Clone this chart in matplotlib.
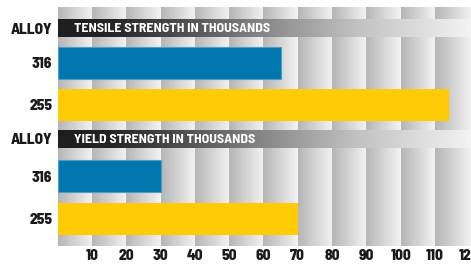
import numpy as np
import matplotlib
matplotlib.use("Agg")
import matplotlib.pyplot as plt
from matplotlib.colors import LinearSegmentedColormap

# ---- data -------------------------------------------------------------------
alloys = ["316", "255"]
tensile_strength = [65, 114]
yield_strength = [30, 70]
headers = ["TENSILE STRENGTH IN THOUSANDS", "YIELD STRENGTH IN THOUSANDS"]
x_ticks = [10, 20, 30, 40, 50, 60, 70, 80, 90, 100, 110, 120]

# ---- style ------------------------------------------------------------------
plt.rcParams["font.family"] = ["Barlow Semi Condensed", "Barlow Condensed",
                               "Archivo Narrow", "DejaVu Sans"]
plt.rcParams["font.weight"] = "bold"

blue = "#0077ae"
yellow = "#ffcb05"

column_cmap = LinearSegmentedColormap.from_list("col", ["#b6b6b6", "#f3f3f3"])
header_cmap = LinearSegmentedColormap.from_list(
    "hdr",
    [(0.0, "#1e1e1e"), (0.12, "#242424"), (0.32, "#555555"),
     (0.5, "#888888"), (0.72, "#c0c0c0"), (1.0, "#f2f2f2")],
)

# layout in pixel rows (top of image = 0)
W, H = 471, 264
x0_px, top_px, bottom_px = 57.7, 7, 246
x_max = 120.5
header_rows = [(19, 37), (130, 148)]
bar_rows = [[63, 105], [176.5, 219]]
bar_height = 32

fig = plt.figure(figsize=(W / 100, H / 100), dpi=100)
ax = fig.add_axes([x0_px / W, (H - bottom_px) / H,
                   (W - x0_px) / W, (bottom_px - top_px) / H])

# gradient columns in the background
grad = np.linspace(0, 1, 64).reshape(1, -1)
for left in range(0, 120, 10):
    right = left + 10 if left < 110 else x_max
    ax.imshow(grad, cmap=column_cmap, aspect="auto", interpolation="bilinear",
              extent=[left, right, bottom_px, top_px], zorder=0)

# header bands with white titles
for (y_top, y_bot), title in zip(header_rows, headers):
    ax.imshow(grad, cmap=header_cmap, aspect="auto", interpolation="bilinear",
              extent=[0, x_max, y_bot, y_top], zorder=1)
    ax.text(4.7, (y_top + y_bot) / 2 + 0.5, title, color="white", fontsize=10,
            fontweight="bold", va="center", ha="left", zorder=3)

# bars
for rows, values in zip(bar_rows, [tensile_strength, yield_strength]):
    ax.barh(rows[0], values[0], height=bar_height, left=0, color=blue,
            edgecolor="#4e9cc6", linewidth=0.8, zorder=2)
    ax.barh(rows[1], values[1], height=bar_height, left=0, color=yellow,
            linewidth=0, zorder=2)

# axis labels
ax.set_xlim(0, x_max)
ax.set_ylim(bottom_px, top_px)
ax.set_xticks(x_ticks)
ax.set_xticklabels([str(t) for t in x_ticks], fontsize=11, fontweight=800)
y_pos = [sum(header_rows[0]) / 2] + bar_rows[0] + [sum(header_rows[1]) / 2] + bar_rows[1]
y_lab = ["ALLOY"] + alloys + ["ALLOY"] + alloys
ax.set_yticks(y_pos)
ax.set_yticklabels(y_lab, fontsize=11, fontweight=800)
ax.tick_params(axis="y", length=0, pad=4, colors="#1a1a1a")
ax.tick_params(axis="x", length=0, pad=2.5, colors="#1a1a1a")
for s in ax.spines.values():
    s.set_visible(False)

fig.savefig("out.png", dpi=100)
